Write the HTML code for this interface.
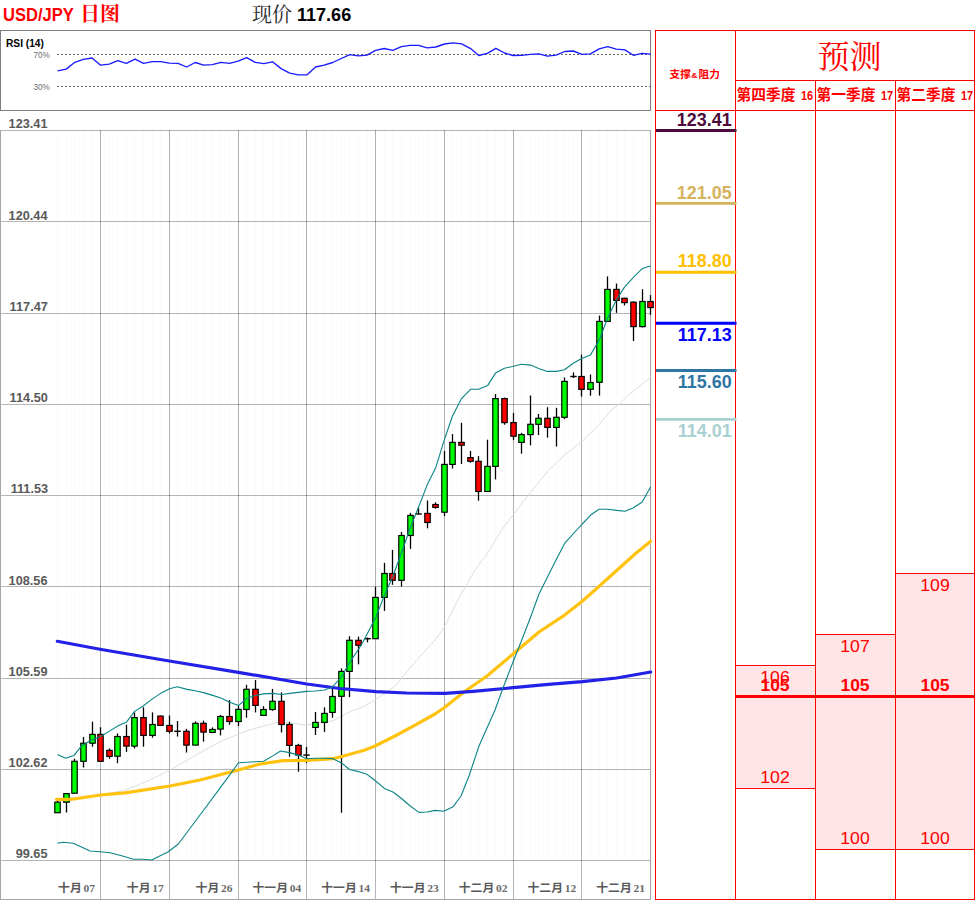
<!DOCTYPE html>
<html lang="zh"><head><meta charset="utf-8"><title>USD/JPY</title>
<style>
html,body{margin:0;padding:0;background:#fff}
#root{position:relative;width:975px;height:900px;overflow:hidden;background:#fff;font-family:"Liberation Sans",sans-serif}
.t{position:absolute;white-space:nowrap;line-height:1}
</style></head><body><div id="root">
<svg width="975" height="900" viewBox="0 0 975 900" style="position:absolute;left:0;top:0">
<g shape-rendering="crispEdges">
<rect x="0.5" y="30.5" width="650" height="80" fill="#fff" stroke="#7f7f7f" stroke-width="1"/>
</g>
<path d="M57 54.5H651M57 86.5H651" stroke="#666" stroke-width="1" stroke-dasharray="2 2" fill="none" shape-rendering="crispEdges"/>
<polyline points="57.6,70.9 66.2,69.1 74.8,62.3 83.4,59.4 92.0,58.0 100.6,65.2 109.2,64.1 117.8,60.7 126.4,63.4 135.0,59.1 143.6,63.4 152.2,61.6 160.8,61.6 169.4,63.2 178.0,63.4 186.6,67.0 195.2,62.5 203.7,65.2 212.3,64.6 220.9,62.3 229.5,63.4 238.1,61.2 246.7,57.6 255.3,62.3 263.9,63.6 272.5,61.8 281.1,68.6 289.7,73.1 298.3,74.9 306.9,74.9 315.5,67.0 324.1,65.2 332.7,62.5 341.3,58.5 349.8,54.6 358.4,55.8 367.0,55.1 375.6,50.3 384.2,48.5 392.8,50.3 401.4,46.7 410.0,45.4 418.6,45.4 427.2,47.9 435.8,47.0 444.4,44.0 453.0,42.9 461.6,43.8 470.2,48.3 478.8,55.5 487.3,53.3 495.9,48.3 504.5,53.0 513.1,55.5 521.7,55.3 530.3,54.4 538.9,53.9 547.5,56.2 556.1,55.1 564.7,51.5 573.3,51.0 581.9,54.4 590.5,53.9 599.1,48.8 607.7,46.7 616.3,49.2 624.9,49.9 633.4,55.3 642.0,53.3 650.6,54.2" fill="none" stroke="#1a1aff" stroke-width="1.35" stroke-linejoin="round"/>
<path d="M57.5 130V860M66.5 130V860M74.5 130V860M83.5 130V860M92.5 130V860M100.5 130V860M109.5 130V860M117.5 130V860M126.5 130V860M134.5 130V860M143.5 130V860M152.5 130V860M160.5 130V860M169.5 130V860M177.5 130V860M186.5 130V860M195.5 130V860M203.5 130V860M212.5 130V860M220.5 130V860M229.5 130V860M238.5 130V860M246.5 130V860M255.5 130V860M263.5 130V860M272.5 130V860M281.5 130V860M289.5 130V860M298.5 130V860M306.5 130V860M315.5 130V860M324.5 130V860M332.5 130V860M341.5 130V860M349.5 130V860M358.5 130V860M367.5 130V860M375.5 130V860M384.5 130V860M392.5 130V860M401.5 130V860M410.5 130V860M418.5 130V860M427.5 130V860M435.5 130V860M444.5 130V860M452.5 130V860M461.5 130V860M470.5 130V860M478.5 130V860M487.5 130V860M495.5 130V860M504.5 130V860M513.5 130V860M521.5 130V860M530.5 130V860M538.5 130V860M547.5 130V860M556.5 130V860M564.5 130V860M573.5 130V860M581.5 130V860M590.5 130V860M599.5 130V860M607.5 130V860M616.5 130V860M624.5 130V860M633.5 130V860M642.5 130V860M650.5 130V860" stroke="#000" stroke-opacity="0.018" stroke-width="1" fill="none" shape-rendering="crispEdges"/>
<path d="M0 130.5H651M0 221.5H651M0 313.5H651M0 404.5H651M0 495.5H651M0 586.5H651M0 678.5H651M0 769.5H651M0 860.5H651" stroke="#000" stroke-opacity="0.29" stroke-width="1" fill="none" shape-rendering="crispEdges"/>
<path d="M100.5 130V900M169.5 130V900M238.5 130V900M306.5 130V900M375.5 130V900M444.5 130V900M513.5 130V900M581.5 130V900" stroke="#000" stroke-opacity="0.29" stroke-width="1" fill="none" shape-rendering="crispEdges"/>
<path d="M0.5 130V900M650.5 130V900M0 899.5H651" stroke="#a6a6a6" stroke-width="1" fill="none" shape-rendering="crispEdges"/>
<polyline points="57.5,799.3 100.0,794.9 125.0,790.2 150.0,780.0 170.0,770.0 200.0,752.7 220.0,741.7 246.7,730.7 280.0,721.7 306.7,725.0 333.3,720.7 350.0,711.7 365.0,706.0 375.0,700.0 395.0,686.0 415.0,662.0 435.0,640.0 443.8,628.0 459.0,598.0 475.0,570.0 487.0,554.0 503.0,528.0 513.5,514.4 530.6,492.1 547.4,471.5 564.5,455.1 581.6,441.7 599.4,424.3 611.2,409.9 620.0,403.7 626.7,396.4 650.7,377.0" fill="none" stroke="#dedede" stroke-width="1"/>
<path d="M57.5 800.8V812.7" stroke="#000" stroke-width="1.3"/>
<rect x="54.78" y="802.2" width="5.44" height="10.5" fill="#00ff00" stroke="#000" stroke-width="1.18"/>
<path d="M66.5 793.0V812.5" stroke="#000" stroke-width="1.3"/>
<rect x="63.78" y="793.6" width="5.44" height="8.6" fill="#00ff00" stroke="#000" stroke-width="1.18"/>
<path d="M74.5 758.7V793.2" stroke="#000" stroke-width="1.3"/>
<rect x="71.78" y="761.3" width="5.44" height="31.9" fill="#00ff00" stroke="#000" stroke-width="1.18"/>
<path d="M83.5 737.0V767.5" stroke="#000" stroke-width="1.3"/>
<rect x="80.78" y="743.2" width="5.44" height="18.1" fill="#00ff00" stroke="#000" stroke-width="1.18"/>
<path d="M92.5 721.7V746.7" stroke="#000" stroke-width="1.3"/>
<rect x="89.78" y="734.4" width="5.44" height="8.8" fill="#00ff00" stroke="#000" stroke-width="1.18"/>
<path d="M100.5 727.2V761.3" stroke="#000" stroke-width="1.3"/>
<rect x="97.78" y="734.4" width="5.44" height="26.9" fill="#ff0000" stroke="#000" stroke-width="1.18"/>
<path d="M109.5 748.4V758.7" stroke="#000" stroke-width="1.3"/>
<rect x="106.78" y="750.4" width="5.44" height="6.0" fill="#ff0000" stroke="#000" stroke-width="1.18"/>
<path d="M117.5 733.4V763.2" stroke="#000" stroke-width="1.3"/>
<rect x="114.78" y="736.5" width="5.44" height="19.7" fill="#00ff00" stroke="#000" stroke-width="1.18"/>
<path d="M126.5 724.7V751.9" stroke="#000" stroke-width="1.3"/>
<rect x="123.78" y="736.5" width="5.44" height="9.6" fill="#ff0000" stroke="#000" stroke-width="1.18"/>
<path d="M134.5 712.4V748.4" stroke="#000" stroke-width="1.3"/>
<rect x="131.78" y="717.6" width="5.44" height="28.5" fill="#00ff00" stroke="#000" stroke-width="1.18"/>
<path d="M143.5 707.3V746.7" stroke="#000" stroke-width="1.3"/>
<rect x="140.78" y="717.6" width="5.44" height="17.8" fill="#ff0000" stroke="#000" stroke-width="1.18"/>
<path d="M152.5 712.4V737.7" stroke="#000" stroke-width="1.3"/>
<rect x="149.78" y="724.5" width="5.44" height="10.9" fill="#00ff00" stroke="#000" stroke-width="1.18"/>
<path d="M160.5 715.5V725.4" stroke="#000" stroke-width="1.3"/>
<rect x="157.78" y="716.1" width="5.44" height="9.3" fill="#ff0000" stroke="#000" stroke-width="1.18"/>
<path d="M169.5 715.5V733.4" stroke="#000" stroke-width="1.3"/>
<rect x="166.78" y="725.4" width="5.44" height="5.9" fill="#ff0000" stroke="#000" stroke-width="1.18"/>
<path d="M177.5 721.0V736.5" stroke="#000" stroke-width="1.3"/>
<path d="M174.3 731.3H180.7" stroke="#000" stroke-width="1.4"/>
<path d="M186.5 728.9V752.5" stroke="#000" stroke-width="1.3"/>
<rect x="183.78" y="731.3" width="5.44" height="13.8" fill="#ff0000" stroke="#000" stroke-width="1.18"/>
<path d="M195.5 721.3V745.1" stroke="#000" stroke-width="1.3"/>
<rect x="192.78" y="723.3" width="5.44" height="21.8" fill="#00ff00" stroke="#000" stroke-width="1.18"/>
<path d="M203.5 720.6V741.6" stroke="#000" stroke-width="1.3"/>
<rect x="200.78" y="723.3" width="5.44" height="8.8" fill="#ff0000" stroke="#000" stroke-width="1.18"/>
<path d="M212.5 727.4V732.4" stroke="#000" stroke-width="1.3"/>
<rect x="209.78" y="729.5" width="5.44" height="2.9" fill="#00ff00" stroke="#000" stroke-width="1.18"/>
<path d="M220.5 715.0V735.4" stroke="#000" stroke-width="1.3"/>
<rect x="217.78" y="716.5" width="5.44" height="12.6" fill="#00ff00" stroke="#000" stroke-width="1.18"/>
<path d="M229.5 700.1V724.7" stroke="#000" stroke-width="1.3"/>
<rect x="226.78" y="716.5" width="5.44" height="5.0" fill="#ff0000" stroke="#000" stroke-width="1.18"/>
<path d="M238.5 705.8V726.0" stroke="#000" stroke-width="1.3"/>
<rect x="235.78" y="709.4" width="5.44" height="12.1" fill="#00ff00" stroke="#000" stroke-width="1.18"/>
<path d="M246.5 684.8V717.7" stroke="#000" stroke-width="1.3"/>
<rect x="243.78" y="689.3" width="5.44" height="20.2" fill="#00ff00" stroke="#000" stroke-width="1.18"/>
<path d="M255.5 680.1V712.4" stroke="#000" stroke-width="1.3"/>
<rect x="252.78" y="689.3" width="5.44" height="16.1" fill="#ff0000" stroke="#000" stroke-width="1.18"/>
<path d="M263.5 706.2V715.4" stroke="#000" stroke-width="1.3"/>
<rect x="260.78" y="709.5" width="5.44" height="5.9" fill="#00ff00" stroke="#000" stroke-width="1.18"/>
<path d="M272.5 688.9V710.9" stroke="#000" stroke-width="1.3"/>
<rect x="269.78" y="701.3" width="5.44" height="8.2" fill="#00ff00" stroke="#000" stroke-width="1.18"/>
<path d="M281.5 692.4V732.5" stroke="#000" stroke-width="1.3"/>
<rect x="278.78" y="701.3" width="5.44" height="23.2" fill="#ff0000" stroke="#000" stroke-width="1.18"/>
<path d="M289.5 721.8V756.8" stroke="#000" stroke-width="1.3"/>
<rect x="286.78" y="724.5" width="5.44" height="20.9" fill="#ff0000" stroke="#000" stroke-width="1.18"/>
<path d="M298.5 743.8V771.6" stroke="#000" stroke-width="1.3"/>
<rect x="295.78" y="745.4" width="5.44" height="9.7" fill="#ff0000" stroke="#000" stroke-width="1.18"/>
<path d="M306.5 746.9V762.9" stroke="#000" stroke-width="1.3"/>
<path d="M303.3 755.1H309.7" stroke="#000" stroke-width="1.4"/>
<path d="M315.5 711.9V735.0" stroke="#000" stroke-width="1.3"/>
<rect x="312.78" y="722.4" width="5.44" height="5.0" fill="#00ff00" stroke="#000" stroke-width="1.18"/>
<path d="M324.5 707.4V731.9" stroke="#000" stroke-width="1.3"/>
<rect x="321.78" y="713.4" width="5.44" height="9.0" fill="#00ff00" stroke="#000" stroke-width="1.18"/>
<path d="M332.5 688.7V717.7" stroke="#000" stroke-width="1.3"/>
<rect x="329.78" y="696.5" width="5.44" height="15.9" fill="#00ff00" stroke="#000" stroke-width="1.18"/>
<path d="M341.5 668.4V812.7" stroke="#000" stroke-width="1.3"/>
<rect x="338.78" y="671.4" width="5.44" height="24.9" fill="#00ff00" stroke="#000" stroke-width="1.18"/>
<path d="M349.5 636.2V697.1" stroke="#000" stroke-width="1.3"/>
<rect x="346.78" y="640.3" width="5.44" height="31.1" fill="#00ff00" stroke="#000" stroke-width="1.18"/>
<path d="M358.5 636.6V664.3" stroke="#000" stroke-width="1.3"/>
<rect x="355.78" y="640.3" width="5.44" height="5.0" fill="#ff0000" stroke="#000" stroke-width="1.18"/>
<path d="M367.5 637.5V642.4" stroke="#000" stroke-width="1.3"/>
<path d="M364.3 638.7H370.7" stroke="#000" stroke-width="1.4"/>
<path d="M375.5 586.9V638.7" stroke="#000" stroke-width="1.3"/>
<rect x="372.78" y="597.4" width="5.44" height="41.3" fill="#00ff00" stroke="#000" stroke-width="1.18"/>
<path d="M384.5 562.8V610.9" stroke="#000" stroke-width="1.3"/>
<rect x="381.78" y="573.5" width="5.44" height="23.9" fill="#00ff00" stroke="#000" stroke-width="1.18"/>
<path d="M392.5 549.9V584.8" stroke="#000" stroke-width="1.3"/>
<rect x="389.78" y="573.5" width="5.44" height="6.8" fill="#ff0000" stroke="#000" stroke-width="1.18"/>
<path d="M401.5 532.0V586.5" stroke="#000" stroke-width="1.3"/>
<rect x="398.78" y="535.5" width="5.44" height="44.8" fill="#00ff00" stroke="#000" stroke-width="1.18"/>
<path d="M410.5 512.9V548.9" stroke="#000" stroke-width="1.3"/>
<rect x="407.78" y="515.4" width="5.44" height="20.1" fill="#00ff00" stroke="#000" stroke-width="1.18"/>
<path d="M418.5 507.7V514.5" stroke="#000" stroke-width="1.3"/>
<path d="M415.3 513.9H421.7" stroke="#000" stroke-width="1.4"/>
<path d="M427.5 500.5V528.3" stroke="#000" stroke-width="1.3"/>
<rect x="424.78" y="513.4" width="5.44" height="9.1" fill="#ff0000" stroke="#000" stroke-width="1.18"/>
<path d="M435.5 502.3V508.7" stroke="#000" stroke-width="1.3"/>
<rect x="432.78" y="504.5" width="5.44" height="2.9" fill="#ff0000" stroke="#000" stroke-width="1.18"/>
<path d="M444.5 451.0V516.2" stroke="#000" stroke-width="1.3"/>
<rect x="441.78" y="464.4" width="5.44" height="47.8" fill="#00ff00" stroke="#000" stroke-width="1.18"/>
<path d="M452.5 434.1V468.5" stroke="#000" stroke-width="1.3"/>
<rect x="449.78" y="442.4" width="5.44" height="22.0" fill="#00ff00" stroke="#000" stroke-width="1.18"/>
<path d="M461.5 422.8V463.9" stroke="#000" stroke-width="1.3"/>
<rect x="458.78" y="442.4" width="5.44" height="2.8" fill="#ff0000" stroke="#000" stroke-width="1.18"/>
<path d="M470.5 451.0V462.7" stroke="#000" stroke-width="1.3"/>
<rect x="467.78" y="457.6" width="5.44" height="3.7" fill="#ff0000" stroke="#000" stroke-width="1.18"/>
<path d="M478.5 456.1V500.7" stroke="#000" stroke-width="1.3"/>
<rect x="475.78" y="461.3" width="5.44" height="30.2" fill="#ff0000" stroke="#000" stroke-width="1.18"/>
<path d="M487.5 439.7V491.5" stroke="#000" stroke-width="1.3"/>
<rect x="484.78" y="466.4" width="5.44" height="25.1" fill="#00ff00" stroke="#000" stroke-width="1.18"/>
<path d="M495.5 394.1V479.4" stroke="#000" stroke-width="1.3"/>
<rect x="492.78" y="398.6" width="5.44" height="67.8" fill="#00ff00" stroke="#000" stroke-width="1.18"/>
<path d="M504.5 397.5V424.7" stroke="#000" stroke-width="1.3"/>
<rect x="501.78" y="398.6" width="5.44" height="24.0" fill="#ff0000" stroke="#000" stroke-width="1.18"/>
<path d="M513.5 413.0V440.1" stroke="#000" stroke-width="1.3"/>
<rect x="510.78" y="422.6" width="5.44" height="13.6" fill="#ff0000" stroke="#000" stroke-width="1.18"/>
<path d="M521.5 432.9V453.7" stroke="#000" stroke-width="1.3"/>
<rect x="518.78" y="434.6" width="5.44" height="7.8" fill="#00ff00" stroke="#000" stroke-width="1.18"/>
<path d="M530.5 395.5V445.4" stroke="#000" stroke-width="1.3"/>
<rect x="527.78" y="424.3" width="5.44" height="10.3" fill="#00ff00" stroke="#000" stroke-width="1.18"/>
<path d="M538.5 414.0V435.0" stroke="#000" stroke-width="1.3"/>
<rect x="535.78" y="418.3" width="5.44" height="6.0" fill="#00ff00" stroke="#000" stroke-width="1.18"/>
<path d="M547.5 407.2V437.6" stroke="#000" stroke-width="1.3"/>
<rect x="544.78" y="418.3" width="5.44" height="9.1" fill="#ff0000" stroke="#000" stroke-width="1.18"/>
<path d="M556.5 407.8V446.5" stroke="#000" stroke-width="1.3"/>
<rect x="553.78" y="417.3" width="5.44" height="10.1" fill="#00ff00" stroke="#000" stroke-width="1.18"/>
<path d="M564.5 377.4V419.1" stroke="#000" stroke-width="1.3"/>
<rect x="561.78" y="381.4" width="5.44" height="35.9" fill="#00ff00" stroke="#000" stroke-width="1.18"/>
<path d="M573.5 372.4V378.0" stroke="#000" stroke-width="1.3"/>
<path d="M570.3 376.5H576.7" stroke="#000" stroke-width="1.4"/>
<path d="M581.5 354.6V396.6" stroke="#000" stroke-width="1.3"/>
<rect x="578.78" y="376.5" width="5.44" height="12.8" fill="#ff0000" stroke="#000" stroke-width="1.18"/>
<path d="M590.5 374.5V395.7" stroke="#000" stroke-width="1.3"/>
<rect x="587.78" y="382.6" width="5.44" height="6.7" fill="#00ff00" stroke="#000" stroke-width="1.18"/>
<path d="M599.5 315.6V395.6" stroke="#000" stroke-width="1.3"/>
<rect x="596.78" y="321.4" width="5.44" height="60.9" fill="#00ff00" stroke="#000" stroke-width="1.18"/>
<path d="M607.5 276.4V321.4" stroke="#000" stroke-width="1.3"/>
<rect x="604.78" y="289.4" width="5.44" height="32.0" fill="#00ff00" stroke="#000" stroke-width="1.18"/>
<path d="M616.5 283.6V312.9" stroke="#000" stroke-width="1.3"/>
<rect x="613.78" y="289.4" width="5.44" height="11.0" fill="#ff0000" stroke="#000" stroke-width="1.18"/>
<path d="M624.5 297.8V305.4" stroke="#000" stroke-width="1.3"/>
<rect x="621.78" y="298.3" width="5.44" height="4.3" fill="#ff0000" stroke="#000" stroke-width="1.18"/>
<path d="M633.5 301.3V341.0" stroke="#000" stroke-width="1.3"/>
<rect x="630.78" y="302.2" width="5.44" height="24.4" fill="#ff0000" stroke="#000" stroke-width="1.18"/>
<path d="M642.5 289.2V327.5" stroke="#000" stroke-width="1.3"/>
<rect x="639.78" y="301.5" width="5.44" height="25.1" fill="#00ff00" stroke="#000" stroke-width="1.18"/>
<path d="M650.5 295.1V314.7" stroke="#000" stroke-width="1.3"/>
<rect x="647.78" y="301.5" width="5.44" height="6.1" fill="#ff0000" stroke="#000" stroke-width="1.18"/>
<polyline points="56.4,799.3 66.5,799.3 74.0,799.0 100.5,795.0 125.0,792.8 133.3,791.7 170.0,786.0 200.0,780.0 238.3,770.0 260.0,764.0 283.3,760.7 306.7,760.3 333.3,758.7 350.0,754.3 365.0,750.0 375.0,746.0 395.0,736.0 415.0,725.2 435.0,714.0 443.8,708.0 465.0,691.2 487.0,676.0 513.0,654.0 539.0,632.0 565.0,614.8 582.2,601.2 595.0,590.0 615.0,572.0 635.0,554.0 650.7,541.2" fill="none" stroke="#ffc20e" stroke-width="3.2" stroke-linejoin="round" stroke-linecap="round"/>
<polyline points="57.3,641.3 100.0,649.3 169.3,661.0 238.3,672.3 306.7,684.0 340.0,688.5 376.0,691.7 406.7,693.0 445.0,693.3 473.3,691.3 513.3,687.7 548.3,684.3 582.3,681.7 616.7,678.0 650.7,672.0" fill="none" stroke="#2121e8" stroke-width="3.2" stroke-linejoin="round" stroke-linecap="round"/>
<polyline points="57.5,754.6 65.7,758.3 73.9,755.6 81.1,746.3 89.3,741.2 100.6,736.5 109.9,730.9 118.1,725.8 126.3,722.3 134.6,711.4 142.8,706.2 152.0,699.1 161.3,692.9 169.5,688.8 177.3,686.7 187.0,689.4 195.2,690.8 204.4,692.9 212.7,695.4 220.9,698.0 229.1,702.0 238.5,705.6 246.3,698.6 255.4,695.5 263.6,693.9 272.4,693.4 281.5,694.5 289.9,693.4 306.5,691.4 315.4,691.0 324.4,690.0 332.4,686.9 341.5,677.0 349.5,662.6 358.5,649.2 363.0,642.0 375.8,617.2 385.0,594.0 393.0,576.0 401.0,554.0 410.2,528.0 419.0,506.0 427.6,483.9 435.8,467.4 444.7,438.7 452.5,416.0 461.5,398.6 470.6,389.3 478.6,389.3 487.6,385.6 495.6,372.9 504.5,368.2 513.5,366.3 521.3,364.3 530.6,365.1 538.6,368.4 547.4,371.4 556.5,371.4 564.5,369.8 573.3,363.3 581.6,358.6 590.5,354.9 599.5,339.5 607.5,318.2 616.5,299.6 624.5,287.1 633.4,277.3 642.5,268.4 650.7,265.8" fill="none" stroke="#0a8484" stroke-width="1.1" stroke-linejoin="round"/>
<polyline points="57.3,843.3 63.3,842.3 73.3,843.3 90.0,851.0 100.0,851.7 110.0,852.7 121.7,855.7 133.3,859.3 143.3,859.3 151.7,860.0 168.3,851.7 178.3,844.0 200.0,815.0 220.0,788.2 229.2,775.7 238.5,762.7 255.4,761.7 263.6,761.3 272.4,756.1 280.6,751.0 289.5,752.6 298.5,755.1 306.5,758.8 315.4,758.2 324.4,758.2 332.4,758.6 341.5,762.9 349.5,769.5 358.5,771.6 367.4,774.6 375.7,781.0 385.0,788.8 393.0,792.0 401.0,798.0 410.2,806.0 419.0,812.4 427.0,812.0 435.0,810.4 443.8,811.2 453.0,806.8 461.0,796.0 469.0,776.0 479.0,746.0 487.0,728.0 495.0,710.0 503.0,688.0 513.0,662.0 521.0,642.0 531.0,616.0 539.0,594.0 547.0,578.0 555.0,562.0 565.0,542.8 582.2,524.0 591.0,514.8 599.0,509.2 607.8,509.2 617.0,510.4 625.0,511.2 633.0,508.0 642.2,502.0 650.7,486.8" fill="none" stroke="#0a8484" stroke-width="1.1" stroke-linejoin="round"/>
<g shape-rendering="crispEdges">
<rect x="735.5" y="665.5" width="80" height="123" fill="#ffe5e5" stroke="#ff0000" stroke-width="1"/>
<rect x="815.5" y="634.5" width="80" height="215" fill="#ffe5e5" stroke="#ff0000" stroke-width="1"/>
<rect x="895.5" y="573.5" width="79" height="276" fill="#ffe5e5" stroke="#ff0000" stroke-width="1"/>
<path d="M655.5 30V900M735.5 30V900M815.5 80V900M895.5 80V900M974.5 30V900M655 30.5H975M735 80.5H975M655 110.5H975M655 899.5H975" stroke="#ff0000" stroke-width="1" fill="none"/>
<rect x="735" y="695" width="240" height="3" fill="#ff0000"/>
</g>
<path d="M656 130.4H736.5" stroke="#4d0a3a" stroke-width="3"/>
<path d="M656 203.4H736.5" stroke="#d6b25c" stroke-width="2.6"/>
<path d="M656 272.2H736.5" stroke="#ffc000" stroke-width="3"/>
<path d="M656 323.2H736.5" stroke="#0000ff" stroke-width="3"/>
<path d="M656 370.6H736.5" stroke="#2e75a3" stroke-width="3"/>
<path d="M656 419.4H736.5" stroke="#a9d1d1" stroke-width="2.6"/>
<text x="80" y="20.7" font-size="20" fill="#ff0000" font-weight="bold" font-family='"Liberation Serif","Noto Serif CJK SC",serif'>日图</text>
<text x="252" y="21.5" font-size="20" fill="#262626" font-family='"Liberation Serif","Noto Serif CJK SC",serif'>现价</text>
<text x="817.5" y="67.5" font-size="32" fill="#ff0000" font-family='"Liberation Serif","Noto Serif CJK SC",serif'>预测</text>
<text x="736.4" y="100.1" font-size="14.75" fill="#ff0000" font-weight="bold" font-family='"Liberation Sans","Noto Sans CJK SC",sans-serif'>第四季度</text>
<text x="816.4" y="100.1" font-size="14.75" fill="#ff0000" font-weight="bold" font-family='"Liberation Sans","Noto Sans CJK SC",sans-serif'>第一季度</text>
<text x="896.4" y="100.1" font-size="14.75" fill="#ff0000" font-weight="bold" font-family='"Liberation Sans","Noto Sans CJK SC",sans-serif'>第二季度</text>
<text x="669.5" y="78.2" font-size="10.67" fill="#ff0000" font-weight="bold" textLength="21.3" lengthAdjust="spacingAndGlyphs" font-family='"Liberation Sans","Noto Sans CJK SC",sans-serif'>支撑</text>
<text x="698.6" y="78.2" font-size="10.67" fill="#ff0000" font-weight="bold" textLength="21.3" lengthAdjust="spacingAndGlyphs" font-family='"Liberation Sans","Noto Sans CJK SC",sans-serif'>阻力</text>
<g font-size="11.8" fill="#595959" font-weight="bold" font-family='"Liberation Sans","Noto Sans CJK SC",sans-serif'>
<text x="58.1" y="891.6">十月</text>
<text x="126.85" y="891.6">十月</text>
<text x="195.6" y="891.6">十月</text>
<text x="252.55" y="891.6">十一月</text>
<text x="321.3" y="891.6">十一月</text>
<text x="390.05" y="891.6">十一月</text>
<text x="458.8" y="891.6">十二月</text>
<text x="527.55" y="891.6">十二月</text>
<text x="596.3" y="891.6">十二月</text>
</g>
</svg>
<div class="t" style="top:5.76px;font-size:18px;color:#ff0000;font-weight:bold;left:3.30px;transform:scale(0.92,1.0);transform-origin:0 84.7%;">USD/JPY</div>
<div class="t" style="top:6.80px;font-size:17.6px;color:#000;font-weight:bold;left:297.40px;transform:scale(1.025,1.0);transform-origin:0 84.7%;">117.66</div>
<div class="t" style="top:37.83px;font-size:10.6px;color:#000;font-weight:bold;left:6.10px;transform:scale(0.96,1.0);transform-origin:0 84.7%;">RSI (14)</div>
<div class="t" style="top:51.29px;font-size:8.4px;color:#6b6b6b;right:925.60px;transform:scale(0.97,1.0);transform-origin:100% 84.7%;">70%</div>
<div class="t" style="top:83.29px;font-size:8.4px;color:#6b6b6b;right:925.60px;transform:scale(0.97,1.0);transform-origin:100% 84.7%;">30%</div>
<div class="t" style="top:118.43px;font-size:12.6px;color:#595959;font-weight:bold;right:927.30px;transform:scale(1.01,1.0);transform-origin:100% 84.7%;">123.41</div>
<div class="t" style="top:209.68px;font-size:12.6px;color:#595959;font-weight:bold;right:927.30px;transform:scale(1.01,1.0);transform-origin:100% 84.7%;">120.44</div>
<div class="t" style="top:300.93px;font-size:12.6px;color:#595959;font-weight:bold;right:927.30px;transform:scale(1.01,1.0);transform-origin:100% 84.7%;">117.47</div>
<div class="t" style="top:392.18px;font-size:12.6px;color:#595959;font-weight:bold;right:927.30px;transform:scale(1.01,1.0);transform-origin:100% 84.7%;">114.50</div>
<div class="t" style="top:483.43px;font-size:12.6px;color:#595959;font-weight:bold;right:927.30px;transform:scale(1.01,1.0);transform-origin:100% 84.7%;">111.53</div>
<div class="t" style="top:574.68px;font-size:12.6px;color:#595959;font-weight:bold;right:927.30px;transform:scale(1.01,1.0);transform-origin:100% 84.7%;">108.56</div>
<div class="t" style="top:665.93px;font-size:12.6px;color:#595959;font-weight:bold;right:927.30px;transform:scale(1.01,1.0);transform-origin:100% 84.7%;">105.59</div>
<div class="t" style="top:757.18px;font-size:12.6px;color:#595959;font-weight:bold;right:927.30px;transform:scale(1.01,1.0);transform-origin:100% 84.7%;">102.62</div>
<div class="t" style="top:848.43px;font-size:12.6px;color:#595959;font-weight:bold;right:927.30px;transform:scale(1.01,1.0);transform-origin:100% 84.7%;">99.65</div>
<div class="t" style="top:882.57px;font-size:11.5px;color:#6a6a6a;font-weight:bold;font-family:'Liberation Serif',serif;right:880.00px;transform:scale(1.0,0.85);transform-origin:100% 83.8%;">07</div>
<div class="t" style="top:882.57px;font-size:11.5px;color:#6a6a6a;font-weight:bold;font-family:'Liberation Serif',serif;right:811.25px;transform:scale(1.0,0.85);transform-origin:100% 83.8%;">17</div>
<div class="t" style="top:882.57px;font-size:11.5px;color:#6a6a6a;font-weight:bold;font-family:'Liberation Serif',serif;right:742.50px;transform:scale(1.0,0.85);transform-origin:100% 83.8%;">26</div>
<div class="t" style="top:882.57px;font-size:11.5px;color:#6a6a6a;font-weight:bold;font-family:'Liberation Serif',serif;right:673.75px;transform:scale(1.0,0.85);transform-origin:100% 83.8%;">04</div>
<div class="t" style="top:882.57px;font-size:11.5px;color:#6a6a6a;font-weight:bold;font-family:'Liberation Serif',serif;right:605.00px;transform:scale(1.0,0.85);transform-origin:100% 83.8%;">14</div>
<div class="t" style="top:882.57px;font-size:11.5px;color:#6a6a6a;font-weight:bold;font-family:'Liberation Serif',serif;right:536.25px;transform:scale(1.0,0.85);transform-origin:100% 83.8%;">23</div>
<div class="t" style="top:882.57px;font-size:11.5px;color:#6a6a6a;font-weight:bold;font-family:'Liberation Serif',serif;right:467.50px;transform:scale(1.0,0.85);transform-origin:100% 83.8%;">02</div>
<div class="t" style="top:882.57px;font-size:11.5px;color:#6a6a6a;font-weight:bold;font-family:'Liberation Serif',serif;right:398.75px;transform:scale(1.0,0.85);transform-origin:100% 83.8%;">12</div>
<div class="t" style="top:882.57px;font-size:11.5px;color:#6a6a6a;font-weight:bold;font-family:'Liberation Serif',serif;right:330.00px;transform:scale(1.0,0.85);transform-origin:100% 83.8%;">21</div>
<div class="t" style="top:70.82px;font-size:8.6px;color:#ff0000;font-weight:bold;left:691.30px;transform:scale(1.0,0.85);transform-origin:0 84.7%;">&amp;</div>
<div class="t" style="top:89.90px;font-size:12.4px;color:#ff0000;font-weight:bold;left:800.60px;transform:scale(0.88,1.0);transform-origin:0 84.7%;">16</div>
<div class="t" style="top:89.90px;font-size:12.4px;color:#ff0000;font-weight:bold;left:880.60px;transform:scale(0.88,1.0);transform-origin:0 84.7%;">17</div>
<div class="t" style="top:89.90px;font-size:12.4px;color:#ff0000;font-weight:bold;left:960.60px;transform:scale(0.88,1.0);transform-origin:0 84.7%;">17</div>
<div class="t" style="top:110.69px;font-size:18.2px;color:#4d0a3a;font-weight:bold;right:243.80px;transform:scale(0.985,1.0);transform-origin:100% 84.7%;">123.41</div>
<div class="t" style="top:183.69px;font-size:18.2px;color:#d6b25c;font-weight:bold;right:243.80px;transform:scale(0.985,1.0);transform-origin:100% 84.7%;">121.05</div>
<div class="t" style="top:252.49px;font-size:18.2px;color:#ffc000;font-weight:bold;right:243.80px;transform:scale(0.985,1.0);transform-origin:100% 84.7%;">118.80</div>
<div class="t" style="top:325.99px;font-size:18.2px;color:#0000ff;font-weight:bold;right:243.80px;transform:scale(0.985,1.0);transform-origin:100% 84.7%;">117.13</div>
<div class="t" style="top:372.99px;font-size:18.2px;color:#2e75a3;font-weight:bold;right:243.80px;transform:scale(0.985,1.0);transform-origin:100% 84.7%;">115.60</div>
<div class="t" style="top:421.99px;font-size:18.2px;color:#a9d1d1;font-weight:bold;right:243.80px;transform:scale(0.985,1.0);transform-origin:100% 84.7%;">114.01</div>
<div class="t" style="top:577.98px;font-size:16.8px;color:#ff0000;left:835.30px;width:200px;text-align:center;transform:scale(1.05,1.0);transform-origin:50% 84.7%;">109</div>
<div class="t" style="top:638.98px;font-size:16.8px;color:#ff0000;left:755.30px;width:200px;text-align:center;transform:scale(1.05,1.0);transform-origin:50% 84.7%;">107</div>
<div class="t" style="top:669.78px;font-size:16.8px;color:#ff0000;left:675.30px;width:200px;text-align:center;transform:scale(1.05,1.0);transform-origin:50% 84.7%;">106</div>
<div class="t" style="top:770.48px;font-size:16.8px;color:#ff0000;left:675.30px;width:200px;text-align:center;transform:scale(1.05,1.0);transform-origin:50% 84.7%;">102</div>
<div class="t" style="top:830.78px;font-size:16.8px;color:#ff0000;left:755.30px;width:200px;text-align:center;transform:scale(1.05,1.0);transform-origin:50% 84.7%;">100</div>
<div class="t" style="top:830.78px;font-size:16.8px;color:#ff0000;left:835.30px;width:200px;text-align:center;transform:scale(1.05,1.0);transform-origin:50% 84.7%;">100</div>
<div class="t" style="top:678.28px;font-size:16.8px;color:#ff0000;font-weight:bold;left:675.10px;width:200px;text-align:center;transform:scale(1.04,1.0);transform-origin:50% 84.7%;">105</div>
<div class="t" style="top:678.28px;font-size:16.8px;color:#ff0000;font-weight:bold;left:755.10px;width:200px;text-align:center;transform:scale(1.04,1.0);transform-origin:50% 84.7%;">105</div>
<div class="t" style="top:678.28px;font-size:16.8px;color:#ff0000;font-weight:bold;left:835.10px;width:200px;text-align:center;transform:scale(1.04,1.0);transform-origin:50% 84.7%;">105</div>
</div></body></html>
